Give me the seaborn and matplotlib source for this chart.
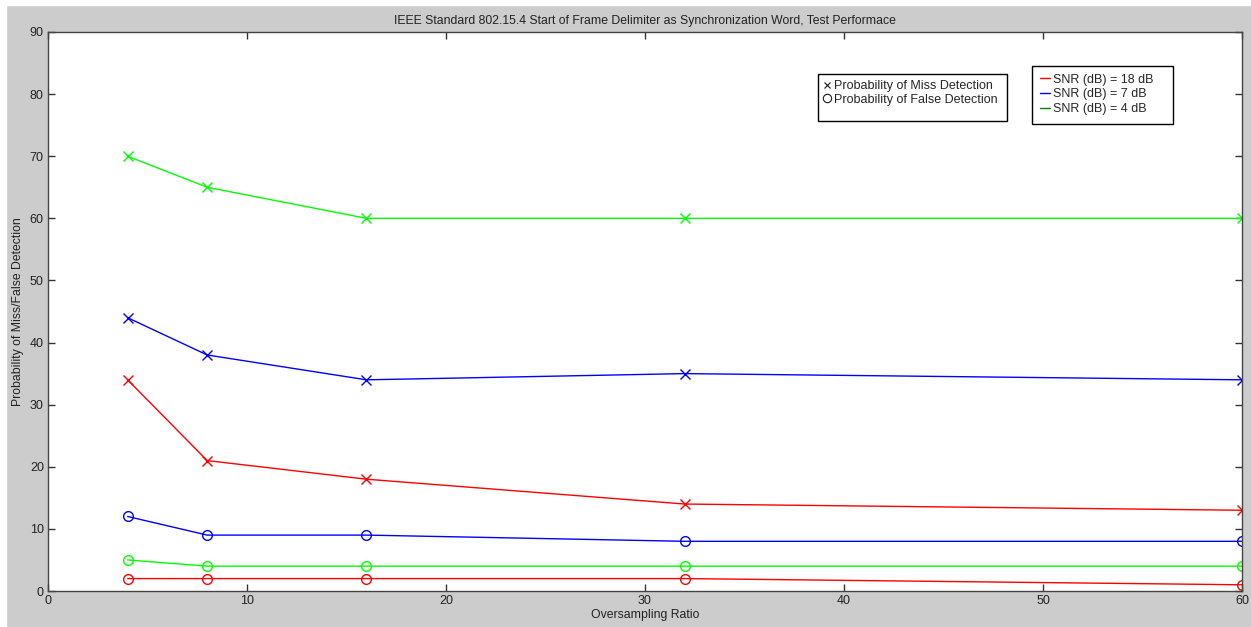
import matplotlib
matplotlib.use('Agg')
import matplotlib.pyplot as plt
from matplotlib.lines import Line2D
from matplotlib.patches import Rectangle
import numpy as np
import pandas as pd
import seaborn as sns

sns.set_theme(style='white')
plt.rcParams['font.family'] = ['Liberation Sans', 'DejaVu Sans']

# data
ratio = [4, 8, 16, 32, 60]
miss_18 = [34, 21, 18, 14, 13]
miss_7 = [44, 38, 34, 35, 34]
miss_4 = [70, 65, 60, 60, 60]
false_18 = [2, 2, 2, 2, 1]
false_7 = [12, 9, 9, 8, 8]
false_4 = [5, 4, 4, 4, 4]

snr_labels = ['SNR (dB) = 18 dB', 'SNR (dB) = 7 dB', 'SNR (dB) = 4 dB']
line_cols = ['#ff0000', '#0000ff', '#00ff00']
legend_cols = ['#ff0000', '#0000ff', '#008000']

W, H = 1251, 627
fig = plt.figure(figsize=(W/100, H/100), dpi=100)
fig.patch.set_facecolor('#cccccc')
fig.add_artist(Rectangle((0, 0), 6/W, 1, color='white', transform=fig.transFigure, zorder=-1))
fig.add_artist(Rectangle((0, 1-5/H), 1, 5/H, color='white', transform=fig.transFigure, zorder=-1))
ax = fig.add_axes([48/W, 36/H, (1242-48)/W, (591-32)/H])
ax.set_facecolor('white')

series = [(miss_18, false_18), (miss_7, false_7), (miss_4, false_4)]
for (miss, fals), col in zip(series, line_cols):
    df = pd.DataFrame({'ratio': ratio, 'miss': miss, 'false': fals})
    sns.lineplot(data=df, x='ratio', y='miss', ax=ax, color=col, lw=1,
                 marker='x', markersize=7, mew=1, markeredgecolor=col)
    sns.lineplot(data=df, x='ratio', y='false', ax=ax, color=col, lw=1,
                 marker='o', markersize=7, mew=1, fillstyle='none', markeredgecolor=col)

ax.set_xlim(0, 60)
ax.set_ylim(0, 90)
ax.set_xticks(range(0, 61, 10))
ax.set_yticks(range(0, 91, 10))
ax.tick_params(direction='in', length=5, width=1, colors='#333333', labelsize=9,
               top=True, right=True, bottom=True, left=True, pad=3)
ax.tick_params(labelcolor='#222222')
for s in ax.spines.values():
    s.set_color('#444444')
    s.set_linewidth(1)

ax.set_title('IEEE Standard 802.15.4 Start of Frame Delimiter as Synchronization Word, Test Performace',
             fontsize=8.8, color='#222222', pad=6)
ax.set_xlabel('Oversampling Ratio', fontsize=8.8, color='#222222', labelpad=1)
ax.set_ylabel('Probability of Miss/False Detection', fontsize=8.8, color='#222222', labelpad=4)


def box(x0, y0, x1, y1):
    # legend frame in figure pixels (top-left origin)
    fig.add_artist(Rectangle((x0/W, 1-y1/H), (x1-x0)/W, (y1-y0)/H, fill=False,
                             edgecolor='black', lw=1, transform=fig.transFigure, zorder=5))


# marker legend
h1 = [Line2D([], [], ls='none', marker='x', color='k', markersize=5, mew=0.8),
      Line2D([], [], ls='none', marker='o', color='k', markersize=6, mew=0.8, fillstyle='none')]
leg1 = ax.legend(h1, ['Probability of Miss Detection', 'Probability of False Detection'],
                 loc='upper left', bbox_to_anchor=((818-48)/1194, 1-(74-32)/559),
                 fontsize=9, frameon=False, handlelength=0.4, handletextpad=0.4,
                 borderpad=0.5, labelspacing=0.1, borderaxespad=0)
ax.add_artist(leg1)
box(818, 74, 1007, 121)

# SNR legend
h2 = [Line2D([], [], color=c, lw=1) for c in legend_cols]
leg2 = ax.legend(h2, snr_labels, loc='upper left',
                 bbox_to_anchor=((1032-48)/1194, 1-(66-32)/559),
                 fontsize=9, frameon=False, handlelength=0.8, handletextpad=0.3,
                 borderpad=0.6, labelspacing=0.22, borderaxespad=0)
box(1032, 66, 1173, 124)

fig.savefig('out.png', dpi=100, facecolor=fig.get_facecolor())
